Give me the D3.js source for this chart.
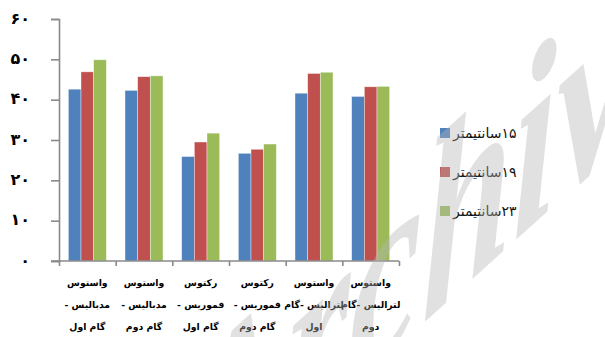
<!DOCTYPE html>
<html>
<head>
<meta charset="utf-8">
<script src="https://cdn.jsdelivr.net/npm/d3@7/dist/d3.min.js"></script>
<style>
  html, body { margin: 0; padding: 0; background: #fff; }
  svg { display: block; }
</style>
</head>
<body>
<svg id="chart" width="605" height="337"></svg>
<script>
// ---- data ----
const categories = [
  "واستوس مدبالیس - گام اول",
  "واستوس مدبالیس - گام دوم",
  "رکتوس فموریس - گام اول",
  "رکتوس فموریس - گام دوم",
  "واستوس لترالیس - گام اول",
  "واستوس لترالیس - گام دوم"
];
const categoryLines = [
  ["واستوس", "مدبالیس -", "گام اول"],
  ["واستوس", "مدبالیس -", "گام دوم"],
  ["رکتوس", "فموریس -", "گام اول"],
  ["رکتوس", "فموریس -", "گام دوم"],
  ["واستوس", "لترالیس -گام", "اول"],
  ["واستوس", "لترالیس -گام", "دوم"]
];
const seriesNames = ["۱۵سانتیمتر", "۱۹سانتیمتر", "۲۳سانتیمتر"];
const values15 = [42.6, 42.3, 25.9, 26.7, 41.6, 40.8];
const values19 = [46.9, 45.7, 29.5, 27.7, 46.5, 43.2];
const values23 = [49.9, 45.9, 31.7, 29.0, 46.8, 43.3];
const yTickValues = [0, 10, 20, 30, 40, 50, 60];
const yTickLabels = ["۰", "۱۰", "۲۰", "۳۰", "۴۰", "۵۰", "۶۰"];
const colors = ["#4F81BD", "#C0504D", "#9BBB59"];

const seriesValues = [values15, values19, values23];

// ---- layout ----
const svg = d3.select("#chart");
const plotL = 59, plotR = 399, plotT = 19, plotB = 261;
const axisColor = "#8a8a8a";
const persianFont = "'DejaVu Sans', sans-serif";

const y = d3.scaleLinear().domain([0, 60]).range([plotB, plotT]);
const x0 = d3.scaleBand().domain(d3.range(categories.length)).range([plotL, plotR])
  .paddingInner(0.33).paddingOuter(0.165);
const x1 = d3.scaleBand().domain(d3.range(seriesNames.length)).range([0, x0.bandwidth()]);
const xb = d3.scaleLinear().domain([0, categories.length]).range([plotL, plotR]);

// bars
const groups = svg.append("g").selectAll("g")
  .data(categories.map((c, i) => ({ i, vals: seriesValues.map(s => s[i]) })))
  .join("g")
  .attr("transform", d => `translate(${x0(d.i)},0)`);
groups.selectAll("rect")
  .data(d => d.vals.map((v, k) => ({ v, k })))
  .join("rect")
  .attr("x", d => x1(d.k))
  .attr("width", x1.bandwidth())
  .attr("y", d => y(d.v))
  .attr("height", d => y(0) - y(d.v))
  .attr("fill", d => colors[d.k])
  .attr("stroke", "#ffffff")
  .attr("stroke-opacity", 0.55)
  .attr("stroke-width", 0.7);

// y axis
const yAxis = svg.append("g")
  .attr("transform", `translate(${plotL},0)`)
  .call(d3.axisLeft(y).tickValues(yTickValues).tickSize(8).tickPadding(21)
    .tickFormat((d, i) => yTickLabels[i]));
yAxis.select(".domain").attr("stroke", axisColor).attr("stroke-width", 1.6);
yAxis.selectAll(".tick line").attr("stroke", axisColor).attr("stroke-width", 1.6);
yAxis.selectAll(".tick text")
  .attr("fill", "#000")
  .attr("font-family", persianFont)
  .attr("font-weight", "bold")
  .attr("font-size", 16)
  .attr("dy", "0.25em");

// x axis (category boundaries)
const xAxis = svg.append("g")
  .attr("transform", `translate(0,${plotB})`)
  .call(d3.axisBottom(xb).ticks(categories.length).tickSize(5).tickSizeOuter(0).tickFormat(""));
xAxis.select(".domain").attr("stroke", axisColor).attr("stroke-width", 1.6)
  .attr("d", `M${plotL - 8},0H${plotR}`);
xAxis.selectAll(".tick line").attr("stroke", axisColor).attr("stroke-width", 1.6);

// category labels
const lineY = [283, 305, 327];
const lab = svg.append("g");
categoryLines.forEach((lines, i) => {
  lines.forEach((t, j) => {
    lab.append("text")
      .attr("x", x0(i) + x0.bandwidth() / 2)
      .attr("y", lineY[j])
      .attr("dy", "0.35em")
      .attr("text-anchor", "middle")
      .attr("direction", "rtl")
      .attr("font-family", persianFont)
      .attr("font-weight", "bold")
      .attr("font-size", 9.3)
      .attr("fill", "#000")
      .text(t);
  });
});

// legend
const legY = [133, 172, 211];
const leg = svg.append("g");
seriesNames.forEach((n, k) => {
  leg.append("rect")
    .attr("x", 440).attr("y", legY[k] - 5)
    .attr("width", 10).attr("height", 10)
    .attr("fill", colors[k]);
  leg.append("text")
    .attr("x", 453).attr("y", legY[k])
    .attr("dy", "0.35em")
    .attr("direction", "rtl")
    .attr("text-anchor", "end")
    .attr("font-family", persianFont)
    .attr("font-size", 14)
    .attr("fill", "#111")
    .text(n);
});

// watermark
svg.append("text")
  .attr("transform", "translate(178,544) skewY(-42) scale(0.65,1)")
  .attr("font-family", "'Liberation Serif', serif")
  .attr("font-style", "italic")
  .attr("font-weight", "bold")
  .attr("font-size", 250)
  .attr("fill", "#b4b4b4")
  .attr("fill-opacity", 0.4)
  .text("Archive");
</script>
</body>
</html>
